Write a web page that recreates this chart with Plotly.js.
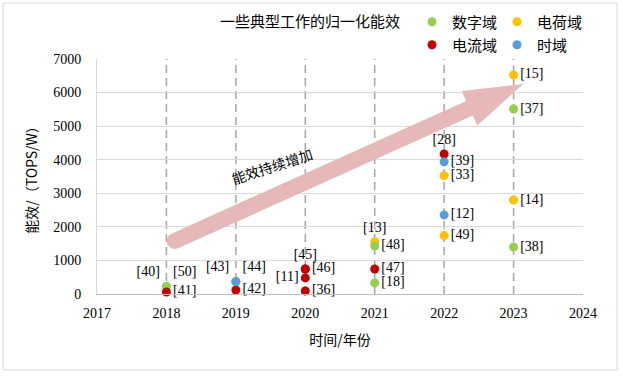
<!DOCTYPE html>
<html><head><meta charset="utf-8">
<script src="https://cdn.plot.ly/plotly-3.0.1.min.js"></script>
<style>html,body{margin:0;padding:0;background:#fff}</style>
</head><body><div id="chart" style="width:623px;height:376px"></div>
<script>
// ---- data ----
const seriesNames = ['数字域', '电荷域', '电流域', '时域'];

const digitalYears  = [2018, 2018, 2021, 2021, 2023, 2023];
const digitalValues = [220, 220, 1430, 330, 5510, 1400];
const digitalLabels = ['[40]', '[50]', '[48]', '[18]', '[37]', '[38]'];

const chargeYears  = [2021, 2022, 2022, 2023, 2023];
const chargeValues = [1560, 3525, 1740, 6525, 2800];
const chargeLabels = ['[13]', '[33]', '[49]', '[15]', '[14]'];

const currentYears  = [2018, 2019, 2020, 2020, 2020, 2020, 2021, 2022];
const currentValues = [60, 120, 745, 480, 745, 90, 745, 4170];
const currentLabels = ['[41]', '[42]', '[45]', '[11]', '[46]', '[36]', '[47]', '[28]'];

const timeYears  = [2019, 2019, 2022, 2022];
const timeValues = [370, 370, 3940, 2355];
const timeLabels = ['[43]', '[44]', '[39]', '[12]'];

const xTickYears = [2017, 2018, 2019, 2020, 2021, 2022, 2023, 2024];
const yTickValues = [0, 1000, 2000, 3000, 4000, 5000, 6000, 7000];
const guideYears = [2018, 2019, 2020, 2021, 2022, 2023];

const chartTitle = '一些典型工作的归一化能效';
const xTitle = '时间/年份';
const yTitle = '能效/（TOPS/W）';
const arrowText = '能效持续增加';

// ---- styles (positions of labels) ----
const digitalPos = ['top left', 'top right', 'middle right', 'middle right', 'middle right', 'middle right'];
const chargePos  = ['top center', 'middle right', 'middle right', 'middle right', 'middle right'];
const currentPos = ['middle right', 'middle right', 'top center', 'middle left', 'middle right', 'middle right', 'middle right', 'top center'];
const timePos    = ['top left', 'top right', 'middle right', 'middle right'];

const colors = { digital: '#92d050', charge: '#ffc000', current: '#c00000', time: '#5b9bd5' };

const CW = 623, CH = 376;
const W = 486, H = 235, L = 97, T = 59;
const xR = [2017, 2024], yR = [0, 7000];
const labelFont = { family: 'Liberation Serif, serif', size: 14, color: '#000' };
const cjk = 'Noto Sans CJK SC, sans-serif';

function trace(name, xs, ys, txt, pos, color, legend, rank) {
  return {
    type: 'scatter', mode: 'markers+text', name: name,
    x: xs, y: ys, text: txt, textposition: pos,
    textfont: labelFont, cliponaxis: false,
    marker: { color: color, size: 9 },
    legend: legend, legendrank: rank, hoverinfo: 'skip'
  };
}

const data = [
  trace(seriesNames[1], chargeYears, chargeValues, chargeLabels, chargePos, colors.charge, 'legend', 2),
  trace(seriesNames[0], digitalYears, digitalValues, digitalLabels, digitalPos, colors.digital, 'legend', 1),
  trace(seriesNames[2], currentYears, currentValues, currentLabels, currentPos, colors.current, 'legend2', 1),
  trace(seriesNames[3], timeYears, timeValues, timeLabels, timePos, colors.time, 'legend2', 2)
];

// ---- decoration: dashed year guides and trend arrow ----
const toPx = (x, y) => [(x - xR[0]) / (xR[1] - xR[0]) * W, (yR[1] - y) / (yR[1] - yR[0]) * H];
const fromPx = (px, py) => [xR[0] + px / W * (xR[1] - xR[0]), yR[1] - py / H * (yR[1] - yR[0])];

const arrowFrom = [2018.12, 1580];
const arrowTo = [2023.14, 6255];
const shaftHalf = 8, headLen = 59, headHalf = 19;
const S = toPx(arrowFrom[0], arrowFrom[1]);
const E = toPx(arrowTo[0], arrowTo[1]);
const len = Math.hypot(E[0] - S[0], E[1] - S[1]);
const u = [(E[0] - S[0]) / len, (E[1] - S[1]) / len];
const n = [-u[1], u[0]];
const B = [E[0] - headLen * u[0], E[1] - headLen * u[1]];
const off = (p, k) => [p[0] + k * n[0], p[1] + k * n[1]];
const poly = [off(S, shaftHalf), off(B, shaftHalf), off(B, headHalf), E, off(B, -headHalf), off(B, -shaftHalf), off(S, -shaftHalf)]
  .map(p => fromPx(p[0], p[1]));
const arrowPath = 'M' + poly.map(p => p[0] + ',' + p[1]).join(' L') + ' Z';

const shapes = guideYears.map(yr => ({
  type: 'line', xref: 'x', yref: 'paper', x0: yr, x1: yr, y0: 0, y1: 1,
  line: { color: '#a6a6a6', width: 1.5, dash: '8px,5px' }, layer: 'between'
}));
shapes.push({ type: 'path', xref: 'x', yref: 'y', path: arrowPath, fillcolor: '#e6b9b8', line: { width: 0 }, layer: 'between' });
shapes.push({ type: 'circle', xref: 'x', yref: 'y', xsizemode: 'pixel', ysizemode: 'pixel',
  xanchor: arrowFrom[0], yanchor: arrowFrom[1], x0: -shaftHalf, x1: shaftHalf, y0: -shaftHalf, y1: shaftHalf,
  fillcolor: '#e6b9b8', line: { width: 0 }, layer: 'between' });
// outer frame
shapes.push({ type: 'rect', xref: 'paper', yref: 'paper',
  x0: (3 - L) / W, x1: (617 - L) / W, y0: (T + H - 370) / H, y1: (T + H - 3) / H,
  line: { color: '#d9d9d9', width: 1 }, layer: 'below' });

const legendBase = {
  orientation: 'h', xref: 'container', yref: 'container', xanchor: 'left', yanchor: 'middle',
  entrywidth: 40, entrywidthmode: 'pixels', bgcolor: 'rgba(0,0,0,0)',
  font: { family: cjk, size: 15, color: '#000' }, itemclick: false, itemdoubleclick: false
};

const layout = {
  width: CW, height: CH,
  margin: { l: L, r: CW - L - W, t: T, b: CH - T - H, autoexpand: false },
  paper_bgcolor: '#fff', plot_bgcolor: '#fff',
  title: { text: chartTitle, font: { family: cjk, size: 15, color: '#000' },
    xref: 'container', x: 310 / CW, xanchor: 'center', yref: 'container', y: 1 - 22 / CH, yanchor: 'middle' },
  showlegend: true,
  legend: Object.assign({}, legendBase, { x: 412 / CW, y: 1 - 22 / CH }),
  legend2: Object.assign({}, legendBase, { x: 412 / CW, y: 1 - 45 / CH }),
  xaxis: {
    range: xR, tickmode: 'array', tickvals: xTickYears, ticktext: xTickYears.map(String),
    showgrid: false, zeroline: false, showline: true, linecolor: '#bfbfbf', linewidth: 1,
    ticks: '', ticklabelstandoff: 6, tickfont: labelFont,
    title: { text: xTitle, font: { family: cjk, size: 14, color: '#000' }, standoff: 15 }
  },
  yaxis: {
    range: yR, tickmode: 'array', tickvals: yTickValues, ticktext: yTickValues.map(String),
    showgrid: true, gridcolor: '#d9d9d9', gridwidth: 1, zeroline: false,
    showline: true, linecolor: '#d9d9d9', linewidth: 1,
    ticks: '', ticklabelstandoff: 12, tickfont: labelFont,
    title: { text: yTitle, font: { family: cjk, size: 14, color: '#000' }, standoff: 12 }
  },
  shapes: shapes,
  annotations: [{
    text: arrowText, xref: 'x', yref: 'y', x: fromPx(272 - L, 166 - T)[0], y: fromPx(272 - L, 166 - T)[1],
    showarrow: false, textangle: -18, font: { family: cjk, size: 14, color: '#000' }
  }]
};

Plotly.newPlot('chart', data, layout, { displayModeBar: false, staticPlot: true });
</script></body></html>
